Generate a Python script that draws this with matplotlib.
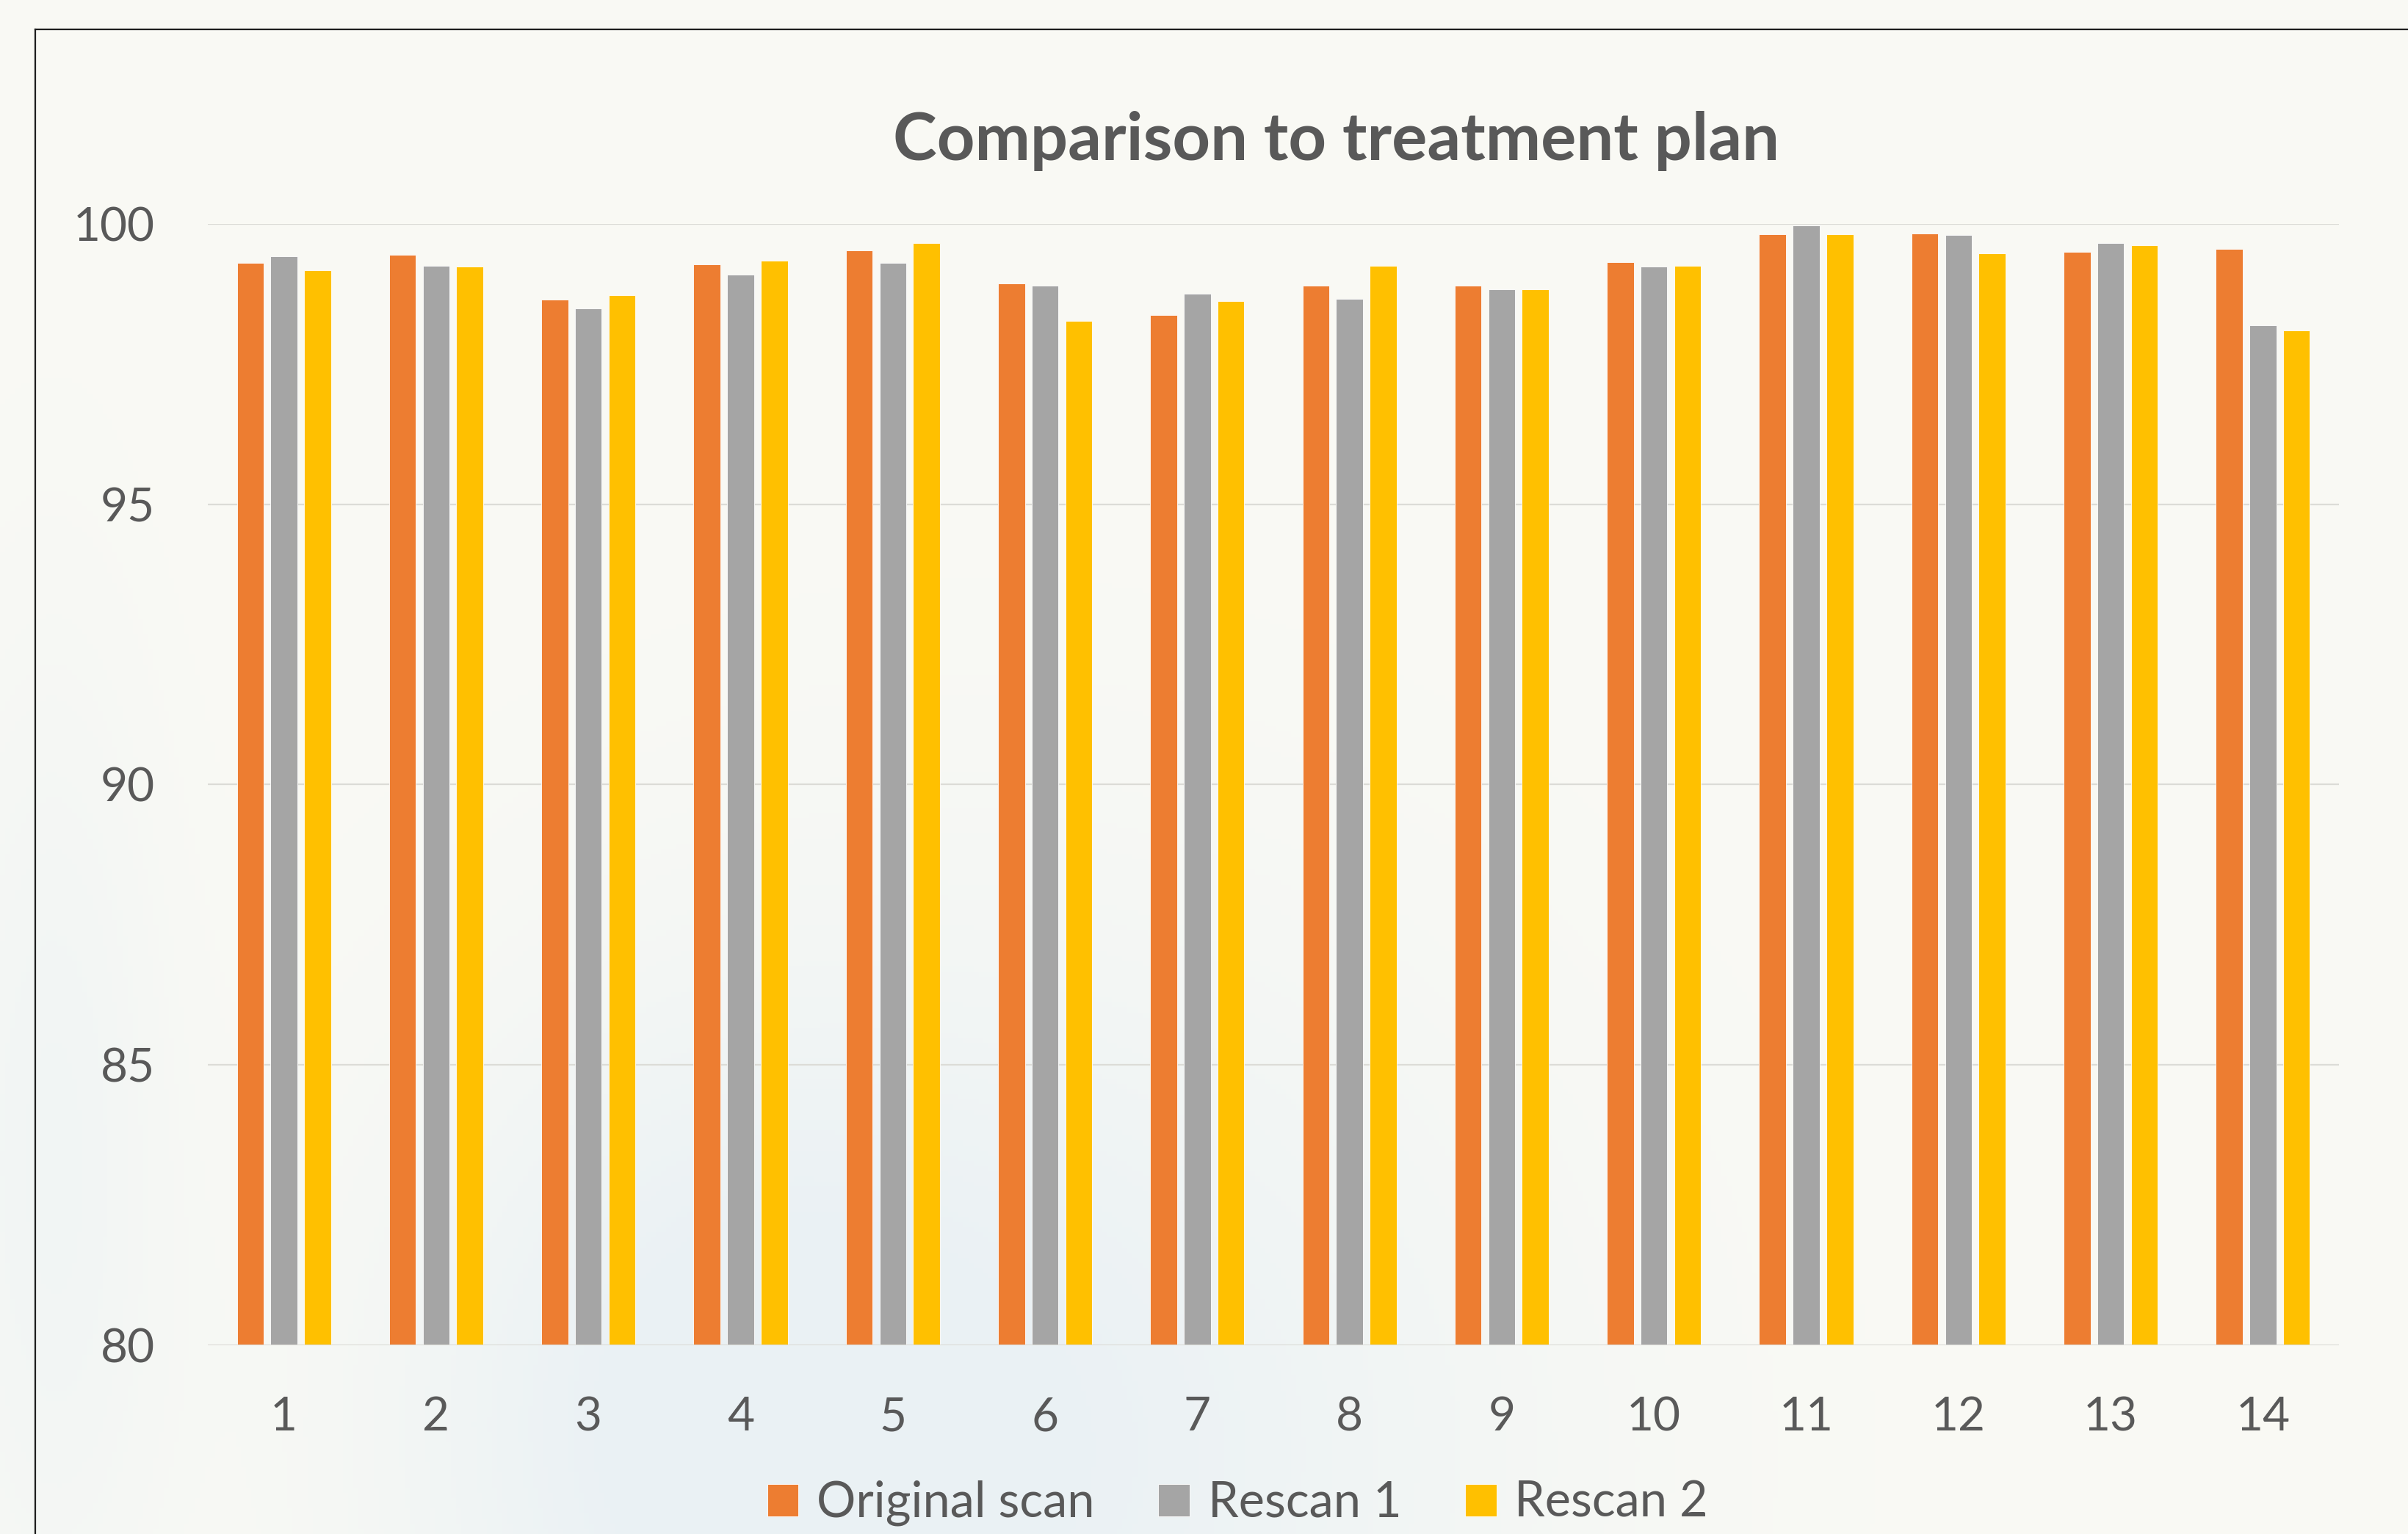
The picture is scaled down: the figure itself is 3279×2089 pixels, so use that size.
import numpy as np
import matplotlib.pyplot as plt
from matplotlib.lines import Line2D

# scan comparison data (% agreement with treatment plan)
cases = [str(i) for i in range(1, 15)]
original_scan = [99.31, 99.45, 98.65, 99.28, 99.53, 98.94, 98.37, 98.90, 98.90, 99.32, 99.82, 99.83, 99.50, 99.55]
rescan_1 = [99.42, 99.25, 98.49, 99.09, 99.30, 98.90, 98.75, 98.67, 98.84, 99.24, 99.97, 99.81, 99.66, 98.19]
rescan_2 = [99.17, 99.24, 98.73, 99.35, 99.66, 98.27, 98.62, 99.25, 98.83, 99.25, 99.82, 99.48, 99.62, 98.10]
series_names = ["Original scan", "Rescan 1", "Rescan 2"]
yticks = [80, 85, 90, 95, 100]

colors = ["#ED7D31", "#A5A5A5", "#FFC000"]
text_col = "#595959"
font = ["Lato", "DejaVu Sans"]

W, H = 3279, 2089
fig = plt.figure(figsize=(W / 100, H / 100), dpi=100)
fig.patch.set_facecolor("#FAFAF5")

# soft bluish wash behind the chart
bg = fig.add_axes([0, 0, 1, 1], zorder=-5)
yy, xx = np.mgrid[0:1:300j, 0:1:470j]
def blob(cx, cy, sx, sy):
    return np.exp(-(((xx - cx) / sx) ** 2 + ((yy - cy) / sy) ** 2))
mask = np.clip(0.9 * blob(0.42, 0.95, 0.22, 0.35) + 0.5 * blob(0.02, 0.75, 0.05, 0.35)
               + 0.5 * blob(0.28, 0.92, 0.12, 0.25), 0, 1)
base = np.array([250, 250, 245]) / 255
tint = np.array([234, 241, 244]) / 255
img = base[None, None, :] * (1 - mask[..., None]) + tint[None, None, :] * mask[..., None]
bg.imshow(img, aspect="auto", extent=[0, 1, 0, 1], origin="upper")
bg.axis("off")

ax = fig.add_axes([283 / W, 1 - 1832 / H, (3185 - 283) / W, (1832 - 305) / H])
ax.patch.set_alpha(0)

x = np.arange(1, len(cases) + 1)
bar_w = 0.176
step = 0.221
for k, (vals, name) in enumerate(zip([original_scan, rescan_1, rescan_2], series_names)):
    ax.bar(x + (k - 1) * step, vals, width=bar_w, color=colors[k], label=name,
           edgecolor="white", linewidth=0.6, zorder=3)

ax.set_xlim(0.5, len(cases) + 0.5)
ax.set_ylim(80, 100)
ax.set_yticks(yticks)
ax.set_xticks(x)
ax.set_xticklabels(cases)
ax.yaxis.grid(True, color="#DCDCD7", linewidth=1.6, zorder=0)
ax.axhline(80, color="#DCDCD7", linewidth=2.2, zorder=4)
for s in ax.spines.values():
    s.set_visible(False)
ax.tick_params(axis="both", length=0, labelsize=46, labelcolor=text_col)
ax.tick_params(axis="x", pad=50)
ax.tick_params(axis="y", pad=52)
for lab in ax.get_xticklabels() + ax.get_yticklabels():
    lab.set_family(font)

fig.text(0.5548, 0.908, "Comparison to treatment plan", ha="center", va="center",
         fontsize=65, fontweight="bold", color=text_col, family=font)

leg = fig.legend(loc="center", bbox_to_anchor=(0.514, 0.020), ncol=3, frameon=False,
                 prop={"family": font, "size": 48}, handlelength=0.64, handleheight=0.64,
                 handletextpad=0.37, columnspacing=1.3, borderpad=0)
for t in leg.get_texts():
    t.set_color(text_col)

# chart frame (top and left edges)
fig.add_artist(Line2D([48 / W, 1.0], [1 - 40 / H, 1 - 40 / H], color="#1E1E1E", linewidth=1.6))
fig.add_artist(Line2D([48 / W, 48 / W], [1 - 40 / H, 0.0], color="#1E1E1E", linewidth=1.6))

fig.savefig("out.png", dpi=100, facecolor=fig.get_facecolor())
